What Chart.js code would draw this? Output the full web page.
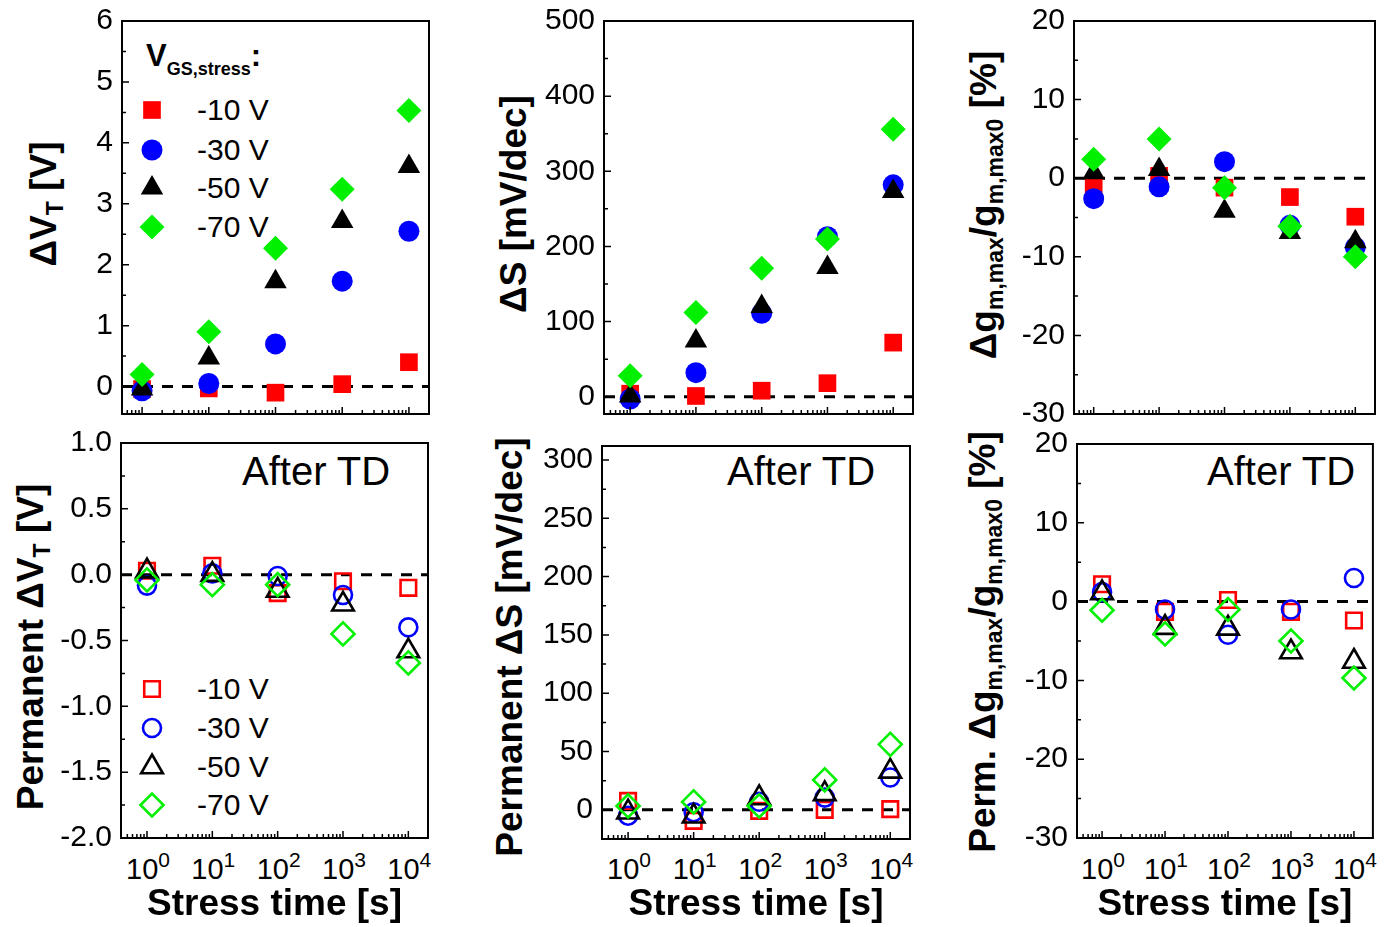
<!DOCTYPE html>
<html>
<head>
<meta charset="utf-8">
<title>Bias stress: threshold voltage, subthreshold swing and transconductance shifts</title>
<script src="https://cdn.jsdelivr.net/npm/chart.js@4.4.1/dist/chart.umd.min.js"></script>
<style>
  html, body { margin: 0; padding: 0; background: #fff; }
  #stage { position: relative; width: 1388px; height: 927px; overflow: hidden;
           font-family: "Liberation Sans", Arial, Helvetica, sans-serif; color: #000; }
  #stage canvas { position: absolute; left: 0; }
  .txt { position: absolute; white-space: nowrap; line-height: 1; }
  .ytitle { font-weight: bold; font-size: 37px; transform: translate(-50%, -50%) rotate(-90deg); }
  .ytitle .sb { font-size: 23px; position: relative; top: 7px; }
  .xtick { font-size: 29px; transform: translate(-50%, -50%); }
  .xtick .sp { font-size: 21px; position: relative; top: -12px; }
  .key { font-size: 30px; transform: translateY(-50%); }
  .keyhead { font-size: 31px; font-weight: bold; }
  .keyhead .sb { font-size: 18px; position: relative; top: 9px; }
  .note { font-size: 40px; transform: translateY(-50%); }
</style>
</head>
<body>
<div id="stage"></div>
<script>
// ---- data -------------------------------------------------------------
const stressTimes = [1, 10, 100, 1000, 10000];          // stress time [s]
const decadeExponents = [0, 1, 2, 3, 4];                // x tick labels 10^k
const biasLabels = ['-10 V', '-30 V', '-50 V', '-70 V'];

// Threshold-voltage shift during stress, ΔVT [V]
const dVt_m10 = [-0.04, -0.03, -0.10, 0.04, 0.40];
const dVt_m30 = [-0.07, 0.05, 0.70, 1.73, 2.55];
const dVt_m50 = [-0.04, 0.47, 1.72, 2.71, 3.61];
const dVt_m70 = [0.20, 0.90, 2.27, 3.24, 4.53];

// Subthreshold-swing shift during stress, ΔS [mV/dec]
const dS_m10 = [4, 1, 8, 18, 72];
const dS_m30 = [-3, 32, 111, 213, 282];
const dS_m50 = [1, 74, 120, 172, 273];
const dS_m70 = [28, 112, 171, 210, 356];

// Relative change of peak transconductance, Δgm,max/gm,max0 [%]
const dGm_m10 = [-1.0, 0.3, -1.2, -2.4, -4.9];
const dGm_m30 = [-2.6, -1.1, 2.1, -6.0, -8.8];
const dGm_m50 = [0.7, 1.1, -4.2, -6.9, -8.1];
const dGm_m70 = [2.4, 5.0, -1.2, -6.1, -10.0];

// Permanent ΔVT after thermal detrapping [V]
const pVt_m10 = [0.03, 0.068, -0.14, -0.05, -0.10];
const pVt_m30 = [-0.083, 0.01, -0.01, -0.154, -0.40];
const pVt_m50 = [0.027, 0.0, -0.12, -0.225, -0.58];
const pVt_m70 = [-0.04, -0.076, -0.076, -0.45, -0.67];

// Permanent ΔS after thermal detrapping [mV/dec]
const pS_m10 = [7.7, -9.4, -0.9, 0, 0.6];
const pS_m30 = [-5, -2, 7, 10.5, 27.7];
const pS_m50 = [-2, -5.5, 10.2, 13.7, 33];
const pS_m70 = [3.4, 6.8, 3.4, 25.7, 56.2];

// Permanent Δgm,max/gm,max0 after thermal detrapping [%]
const pGm_m10 = [2.2, -1.3, 0.2, -1.3, -2.4];
const pGm_m30 = [1.2, -1.0, -4.2, -1.0, 3.0];
const pGm_m50 = [1.1, -3.3, -3.4, -6.4, -7.6];
const pGm_m70 = [-1.1, -4.1, -1.0, -5.0, -9.7];

// ---- styling ----------------------------------------------------------
Chart.defaults.font.family = '"Liberation Sans", Arial, Helvetica, sans-serif';
Chart.defaults.color = '#000';

const W = 1388, H = 927;
const OFF = 50;   // canvases start above the page so the top tick labels never push the plot down
const seriesStyle = [
  { color: '#ff0000', shape: 'rect',     rFilled: 12.5, rOpen: 11 },
  { color: '#0000ff', shape: 'circle',   rFilled: 10.5, rOpen: 9 },
  { color: '#000000', shape: 'triangle', rFilled: 13,   rOpen: 12.5 },
  { color: '#00f000', shape: 'rectRot',  rFilled: 12.5, rOpen: 11.5 }
];

const panels = [
  { series: [dVt_m10, dVt_m30, dVt_m50, dVt_m70], filled: true,
    area: { l: 122, t: 21, r: 429, b: 414 }, xRange: [0.5, 2e4],
    yRange: [-0.45, 6], step: 0.5, labelStep: 1, decimals: 0,
    yTitle: 'ΔV<span class="sb">T</span> [V]', yTitleAt: [43, 204],
    key: { x: 152, rows: [110, 150, 188, 227], textX: 197, head: [146, 40] } },
  { series: [dS_m10, dS_m30, dS_m50, dS_m70], filled: true,
    area: { l: 604, t: 21, r: 913, b: 414 }, xRange: [0.4, 2e4],
    yRange: [-23, 500], step: 50, labelStep: 100, decimals: 0,
    yTitle: 'ΔS [mV/dec]', yTitleAt: [513, 204] },
  { series: [dGm_m10, dGm_m30, dGm_m50, dGm_m70], filled: true,
    area: { l: 1074, t: 21, r: 1383, b: 414 }, xRange: [0.5, 2e4],
    yRange: [-30, 20], step: 5, labelStep: 10, decimals: 0,
    yTitle: 'Δg<span class="sb">m,max</span>/g<span class="sb">m,max0</span> [%]', yTitleAt: [983, 205] },
  { series: [pVt_m10, pVt_m30, pVt_m50, pVt_m70], filled: false,
    area: { l: 121, t: 443, r: 428, b: 838 }, xRange: [0.4, 2e4],
    yRange: [-2, 1], step: 0.25, labelStep: 0.5, decimals: 1,
    yTitle: 'Permanent ΔV<span class="sb">T</span> [V]', yTitleAt: [30, 647],
    key: { x: 152, rows: [689, 728, 767, 805], textX: 197 }, note: [242, 471],
    bottomAxis: true },
  { series: [pS_m10, pS_m30, pS_m50, pS_m70], filled: false,
    area: { l: 602, t: 446, r: 910, b: 839 }, xRange: [0.4, 2e4],
    yRange: [-25, 312], step: 25, labelStep: 50, decimals: 0,
    yTitle: 'Permanent ΔS [mV/dec]', yTitleAt: [509, 647], note: [727, 471],
    bottomAxis: true },
  { series: [pGm_m10, pGm_m30, pGm_m50, pGm_m70], filled: false,
    area: { l: 1077, t: 444, r: 1386, b: 838 }, xRange: [0.4, 2e4],
    yRange: [-30, 20], step: 5, labelStep: 10, decimals: 0,
    yTitle: 'Perm. Δg<span class="sb">m,max</span>/g<span class="sb">m,max0</span> [%]', yTitleAt: [982, 642],
    note: [1207, 471], bottomAxis: true }
];

// ---- helpers ----------------------------------------------------------
const stage = document.getElementById('stage');

function onStep(v, step) {
  const q = v / step;
  return Math.abs(q - Math.round(q)) < 1e-6;
}

// log-axis tick marks: 1..9 x 10^k inside the axis range
function logTicks(min, max) {
  const out = [];
  for (let k = -2; k <= 6; k++) {
    for (let m = 1; m <= 9; m++) {
      const v = m * Math.pow(10, k);
      if (v > min * 1.001 && v < max * 0.999) out.push({ value: v, major: m === 1 });
    }
  }
  return out;
}

// linear-axis ticks: every multiple of the minor step inside the range
function linearTicks(min, max, step) {
  const out = [];
  const n0 = Math.ceil(min / step - 1e-9), n1 = Math.floor(max / step + 1e-9);
  for (let n = n0; n <= n1; n++) out.push({ value: +(n * step).toFixed(6) });
  return out;
}

function addText(html, x, y, cls) {
  const d = document.createElement('div');
  d.className = 'txt ' + cls;
  d.innerHTML = html;
  d.style.left = x + 'px';
  d.style.top = y + 'px';
  stage.appendChild(d);
  return d;
}

// zero reference line, plot frame and inward tick marks
function framePlugin(p) {
  return {
    id: 'frameAndTicks',
    beforeDatasetsDraw(chart) {
      const { ctx, chartArea: a, scales: { y } } = chart;
      const y0 = y.getPixelForValue(0);
      ctx.save();
      ctx.strokeStyle = '#000';
      ctx.lineWidth = 3;
      ctx.setLineDash([11, 9]);
      ctx.beginPath();
      ctx.moveTo(a.left, y0);
      ctx.lineTo(a.right, y0);
      ctx.stroke();
      ctx.restore();
    },
    afterDraw(chart) {
      const { ctx, chartArea: a, scales: { x, y } } = chart;
      ctx.save();
      ctx.strokeStyle = '#000';
      ctx.lineWidth = 1.5;
      ctx.beginPath();
      x.ticks.forEach(t => {
        const px = x.getPixelForValue(t.value);
        const len = t.major ? 7 : 4;
        ctx.moveTo(px, a.bottom);
        ctx.lineTo(px, a.bottom - len);
      });
      y.ticks.forEach(t => {
        const py = y.getPixelForValue(t.value);
        const len = onStep(t.value, p.labelStep) ? 7 : 4;
        ctx.moveTo(a.left, py);
        ctx.lineTo(a.left + len, py);
      });
      ctx.stroke();
      ctx.lineWidth = 2;
      ctx.strokeRect(a.left, a.top, a.right - a.left, a.bottom - a.top);
      ctx.restore();
    }
  };
}

// marker column of the in-plot key, drawn with each dataset's own point style
function keyPlugin(p) {
  return {
    id: 'keyMarkers',
    afterDatasetsDraw(chart) {
      if (!p.key) return;
      const ctx = chart.ctx;
      chart.data.datasets.forEach((ds, i) => {
        const o = chart.getDatasetMeta(i).data[0].options;
        ctx.save();
        ctx.fillStyle = o.backgroundColor;
        ctx.strokeStyle = o.borderColor;
        ctx.lineWidth = o.borderWidth;
        Chart.helpers.drawPoint(ctx, {
          pointStyle: o.pointStyle, rotation: o.rotation || 0,
          radius: o.radius, borderWidth: o.borderWidth
        }, p.key.x, p.key.rows[i] + OFF);
        ctx.restore();
      });
    }
  };
}

// ---- build the six panels ---------------------------------------------
panels.forEach((p, idx) => {
  const canvas = document.createElement('canvas');
  canvas.width = W;
  canvas.height = H + OFF;
  canvas.style.top = (-OFF) + 'px';
  canvas.style.zIndex = String(idx + 1);
  stage.appendChild(canvas);

  const datasets = p.series.map((vals, i) => {
    const s = seriesStyle[i];
    return {
      label: biasLabels[i],
      data: stressTimes.map((t, j) => ({ x: t, y: vals[j] })),
      showLine: false,
      pointStyle: s.shape,
      pointRadius: p.filled ? s.rFilled : s.rOpen,
      pointBorderWidth: p.filled ? 0 : 2.6,
      pointBackgroundColor: p.filled ? s.color : 'rgba(0,0,0,0)',
      pointBorderColor: s.color,
      backgroundColor: p.filled ? s.color : 'rgba(0,0,0,0)',
      borderColor: s.color,
      order: 3 - i,
      clip: 14
    };
  });

  const chart = new Chart(canvas, {
    type: 'scatter',
    data: { datasets },
    plugins: [framePlugin(p), keyPlugin(p)],
    options: {
      responsive: false,
      animation: false,
      events: [],
      devicePixelRatio: 1,
      layout: { padding: { left: 0, top: p.area.t + OFF, right: W - p.area.r, bottom: 0 } },
      plugins: { legend: { display: false }, tooltip: { enabled: false } },
      scales: {
        x: {
          type: 'logarithmic',
          position: 'bottom',
          min: p.xRange[0],
          max: p.xRange[1],
          grid: { display: false, drawTicks: false },
          border: { display: false },
          ticks: { display: false },
          afterBuildTicks(scale) { scale.ticks = logTicks(p.xRange[0], p.xRange[1]); },
          afterFit(scale) { scale.height = H - p.area.b; },
          title: {
            display: !!p.bottomAxis,
            text: 'Stress time [s]',
            font: { size: 37, weight: 'bold' },
            color: '#000',
            padding: { top: 0, bottom: 0 }
          }
        },
        y: {
          type: 'linear',
          position: 'left',
          bounds: 'data',
          min: p.yRange[0],
          max: p.yRange[1],
          grid: { display: false, drawTicks: false },
          border: { display: false },
          afterBuildTicks(scale) { scale.ticks = linearTicks(p.yRange[0], p.yRange[1], p.step); },
          ticks: {
            autoSkip: false,
            padding: 9,
            font: { size: 30 },
            color: '#000',
            callback: v => (onStep(v, p.labelStep) ? Number(v).toFixed(p.decimals) : '')
          },
          afterFit(scale) { scale.width = p.area.l; }
        }
      }
    }
  });

  // rotated y-axis title with subscripts
  addText(p.yTitle, p.yTitleAt[0], p.yTitleAt[1], 'ytitle');

  // decade labels under the bottom row
  if (p.bottomAxis) {
    decadeExponents.forEach(k => {
      const px = chart.scales.x.getPixelForValue(Math.pow(10, k));
      addText('10<span class="sp">' + k + '</span>', px + 1, 869, 'xtick');
    });
  }

  // in-plot key labels
  if (p.key) {
    if (p.key.head) {
      addText('V<span class="sb">GS,stress</span>:', p.key.head[0], p.key.head[1], 'keyhead');
    }
    biasLabels.forEach((lab, i) => addText(lab, p.key.textX, p.key.rows[i], 'key'));
  }

  if (p.note) addText('After TD', p.note[0], p.note[1], 'note');
});
</script>
</body>
</html>
